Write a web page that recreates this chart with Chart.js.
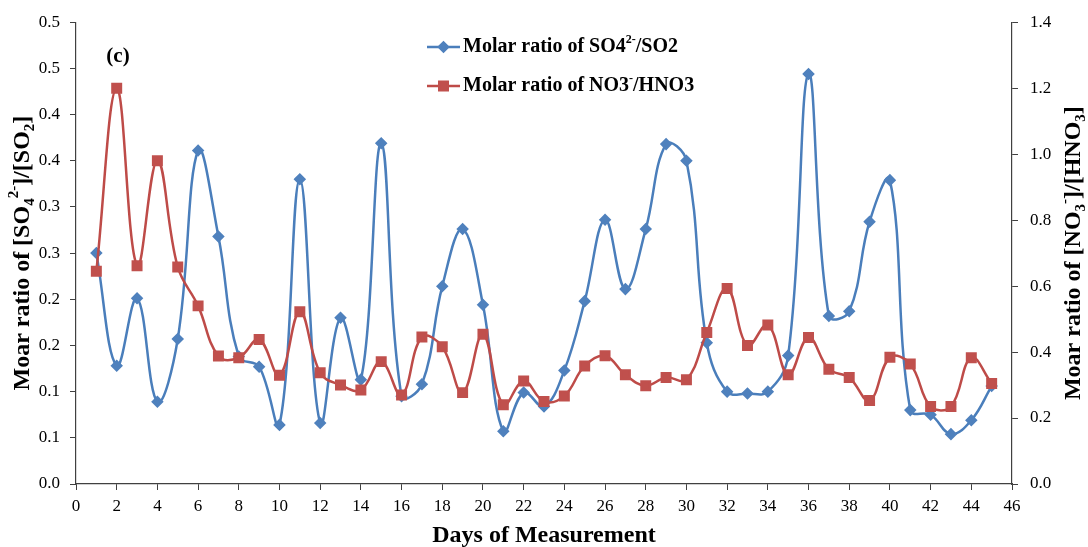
<!DOCTYPE html>
<html>
<head>
<meta charset="utf-8">
<script src="https://cdn.jsdelivr.net/npm/chart.js@4.4.1/dist/chart.umd.min.js"></script>
<style>
  html, body { margin: 0; padding: 0; background: #fff; }
  #wrap { width: 1088px; height: 547px; }
</style>
</head>
<body>
<div id="wrap"><canvas id="chart" width="1088" height="547"></canvas></div>
<script>
// Data
const days = [1, 2, 3, 4, 5, 6, 7, 8, 9, 10, 11, 12, 13, 14, 15, 16, 17, 18, 19, 20, 21, 22, 23,
  24, 25, 26, 27, 28, 29, 30, 31, 32, 33, 34, 35, 36, 37, 38, 39, 40, 41, 42, 43, 44, 45];
const so4Ratio = [0.250, 0.128, 0.201, 0.089, 0.157, 0.361, 0.268, 0.138, 0.127, 0.064,
  0.330, 0.066, 0.180, 0.113, 0.369, 0.095, 0.108, 0.214, 0.276, 0.194,
  0.057, 0.099, 0.084, 0.123, 0.198, 0.286, 0.211, 0.276, 0.368, 0.350,
  0.153, 0.100, 0.098, 0.100, 0.139, 0.444, 0.182, 0.187, 0.284, 0.329,
  0.080, 0.075, 0.054, 0.069, 0.106];
const no3Ratio = [0.645, 1.200, 0.662, 0.980, 0.658, 0.540, 0.388, 0.383, 0.438, 0.330,
  0.522, 0.337, 0.300, 0.285, 0.371, 0.270, 0.446, 0.416, 0.277, 0.454,
  0.240, 0.312, 0.250, 0.267, 0.358, 0.389, 0.331, 0.298, 0.323, 0.316,
  0.459, 0.593, 0.420, 0.482, 0.331, 0.444, 0.348, 0.323, 0.253, 0.384,
  0.364, 0.235, 0.235, 0.383, 0.305];
const xTicks = [0, 2, 4, 6, 8, 10, 12, 14, 16, 18, 20, 22, 24, 26, 28, 30, 32, 34, 36, 38, 40, 42, 44, 46];
const leftTickValues = [0, 0.05, 0.1, 0.15, 0.2, 0.25, 0.3, 0.35, 0.4, 0.45, 0.5];
const leftTickLabels = ['0.0', '0.1', '0.1', '0.2', '0.2', '0.3', '0.3', '0.4', '0.4', '0.5', '0.5'];
const rightTickValues = [0, 0.2, 0.4, 0.6, 0.8, 1.0, 1.2, 1.4];
const rightTickLabels = ['0.0', '0.2', '0.4', '0.6', '0.8', '1.0', '1.2', '1.4'];

const serif = "'Liberation Serif', 'Times New Roman', serif";
const blue = '#4A7EBB', blueMark = '#4F81BD';
const red = '#BE4B48', redMark = '#C0504D';
const axisColor = '#404040';

// text pieces: [text, 'sub' | 'sup' | undefined]
const legendItems = [
  { color: blue, mark: blueMark, style: 'rectRot', radius: 4.5,
    parts: [['Molar ratio of SO4'], ['2-', 'sup'], ['/SO2']] },
  { color: red, mark: redMark, style: 'rect', radius: 6,
    parts: [['Molar ratio of NO3'], ['-', 'sup'], ['/HNO3']] }
];
const leftTitle = [['Moar ratio of [SO'], ['4', 'sub'], ['2-', 'sup'], [']/[SO'], ['2', 'sub'], [']']];
const rightTitle = [['Moar ratio of [NO'], ['3', 'sub'], ['-', 'sup'], [']/[HNO'], ['3', 'sub'], [']']];
const xTitle = [['Days of Measurement']];

function drawRich(ctx, parts, x, y, size, align) {
  const small = Math.round(size * 0.62);
  const widths = parts.map(([t, kind]) => {
    ctx.font = `bold ${kind ? small : size}px ${serif}`;
    return ctx.measureText(t).width;
  });
  const total = widths.reduce((a, b) => a + b, 0);
  let cx = align === 'center' ? x - total / 2 : x;
  ctx.textAlign = 'left';
  ctx.textBaseline = 'middle';
  ctx.fillStyle = '#000';
  parts.forEach(([t, kind], i) => {
    ctx.font = `bold ${kind ? small : size}px ${serif}`;
    let dy = 0;
    if (kind === 'sub') dy = size * 0.28;
    if (kind === 'sup') dy = -size * 0.36;
    ctx.fillText(t, cx, y + dy);
    cx += widths[i];
  });
}

const annotations = {
  id: 'annotations',
  afterDraw(chart) {
    const ctx = chart.ctx;
    const area = chart.chartArea;
    ctx.save();
    // panel label
    ctx.font = `bold 21px ${serif}`;
    ctx.fillStyle = '#000';
    ctx.textAlign = 'center';
    ctx.textBaseline = 'middle';
    ctx.fillText('(c)', 118, 57);

    // legend
    legendItems.forEach((item, i) => {
      const y = 47 + i * 39;
      ctx.strokeStyle = item.color;
      ctx.lineWidth = 2.5;
      ctx.beginPath();
      ctx.moveTo(427, y);
      ctx.lineTo(460, y);
      ctx.stroke();
      ctx.fillStyle = item.mark;
      ctx.strokeStyle = item.mark;
      Chart.helpers.drawPoint(ctx, { pointStyle: item.style, radius: item.radius, rotation: 0, borderWidth: 1 }, 443.5, y);
      drawRich(ctx, item.parts, 463, y, 20, 'left');
    });

    // axis titles
    const midY = (area.top + area.bottom) / 2;
    drawRich(ctx, xTitle, (area.left + area.right) / 2, 536, 24, 'center');
    ctx.save();
    ctx.translate(23, midY);
    ctx.rotate(-Math.PI / 2);
    drawRich(ctx, leftTitle, 0, 0, 24, 'center');
    ctx.restore();
    ctx.save();
    ctx.translate(1074, midY);
    ctx.rotate(-Math.PI / 2);
    drawRich(ctx, rightTitle, 0, 0, 24, 'center');
    ctx.restore();
    ctx.restore();
  }
};

const tickFont = { family: serif, size: 17 };
const axisGrid = { drawOnChartArea: false, drawTicks: true, tickLength: 6, color: axisColor };
const axisBorder = { display: true, color: axisColor, width: 1.2 };

new Chart(document.getElementById('chart'), {
  type: 'line',
  data: {
    datasets: [
      {
        label: 'Molar ratio of SO4 2-/SO2',
        data: days.map((d, i) => ({ x: d, y: so4Ratio[i] })),
        yAxisID: 'y',
        borderColor: blue,
        backgroundColor: blueMark,
        borderWidth: 2.5,
        pointStyle: 'rectRot',
        pointRadius: 4.5,
        pointBackgroundColor: blueMark,
        pointBorderColor: blueMark,
        tension: 0.4,
        order: 1
      },
      {
        label: 'Molar ratio of NO3-/HNO3',
        data: days.map((d, i) => ({ x: d, y: no3Ratio[i] })),
        yAxisID: 'y2',
        borderColor: red,
        backgroundColor: redMark,
        borderWidth: 2.5,
        pointStyle: 'rect',
        pointRadius: 6,
        pointBackgroundColor: redMark,
        pointBorderColor: redMark,
        tension: 0.4,
        order: 0
      }
    ]
  },
  options: {
    responsive: false,
    animation: false,
    devicePixelRatio: 1,
    layout: { padding: { top: 22, left: 0, right: 0, bottom: 0 } },
    plugins: { legend: { display: false }, tooltip: { enabled: false } },
    scales: {
      x: {
        type: 'linear',
        min: 0,
        max: 46,
        grid: axisGrid,
        border: axisBorder,
        ticks: { font: tickFont, color: '#000', padding: 6, maxRotation: 0 },
        afterBuildTicks: s => { s.ticks = xTicks.map(v => ({ value: v })); },
        afterFit: s => { s.height = 63; }
      },
      y: {
        position: 'left',
        min: 0,
        max: 0.5,
        grid: axisGrid,
        border: axisBorder,
        ticks: {
          font: tickFont, color: '#000', padding: 10,
          callback: (v, i) => leftTickLabels[i]
        },
        afterBuildTicks: s => { s.ticks = leftTickValues.map(v => ({ value: v })); },
        afterFit: s => { s.width = 76; }
      },
      y2: {
        position: 'right',
        min: 0,
        max: 1.4,
        grid: axisGrid,
        border: axisBorder,
        ticks: {
          font: tickFont, color: '#000', padding: 12,
          callback: (v, i) => rightTickLabels[i]
        },
        afterBuildTicks: s => { s.ticks = rightTickValues.map(v => ({ value: v })); },
        afterFit: s => { s.width = 76; }
      }
    }
  },
  plugins: [annotations]
});
</script>
</body>
</html>
